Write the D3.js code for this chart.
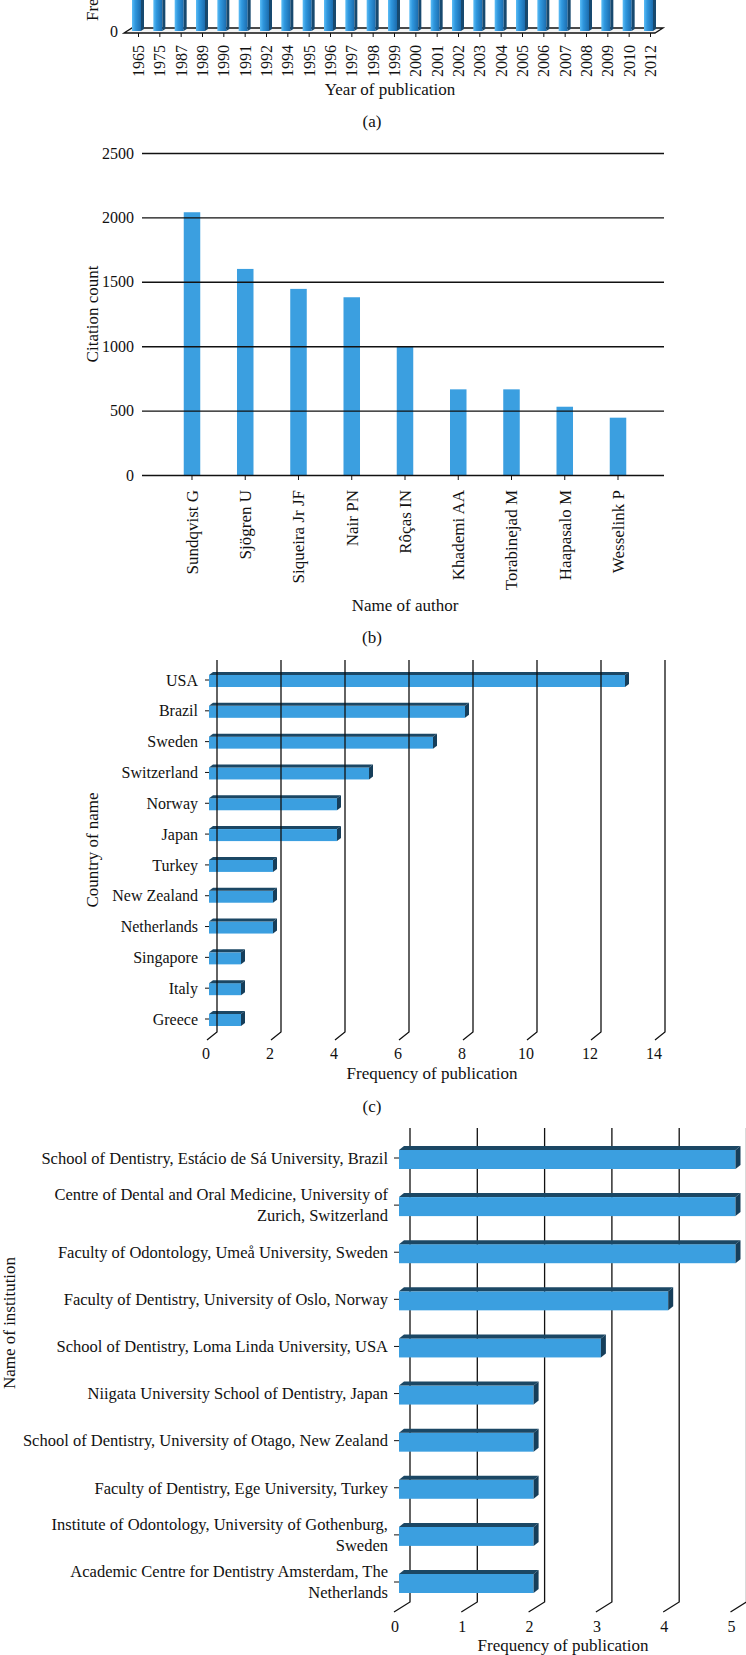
<!DOCTYPE html>
<html>
<head>
<meta charset="utf-8">
<script src="https://cdn.jsdelivr.net/npm/d3@7"></script>
<style>
  body { margin: 0; background: #fff; }
  text { font-family: "Liberation Serif", "DejaVu Serif", serif; fill: #111; }
</style>
</head>
<body>
<svg id="fig"></svg>
<script>
// ---- data ----
// (a) the top of this panel is cut off in the figure, so every bar runs off the top edge
const years = ['1965','1975','1987','1989','1990','1991','1992','1994','1995','1996','1997','1998','1999',
  '2000','2001','2002','2003','2004','2005','2006','2007','2008','2009','2010','2012'];
const yearCounts = [1,1,1,1,1,2,1,1,2,2,3,2,2,3,2,4,3,2,2,2,3,2,1,2,1];

// (b)
const authors = ['Sundqvist G','Sjögren U','Siqueira Jr JF','Nair PN','Rôças IN','Khademi AA','Torabinejad M','Haapasalo M','Wesselink P'];
const citations = [2040, 1600, 1445, 1380, 1000, 665, 665, 530, 445];
const citationTicks = [0, 500, 1000, 1500, 2000, 2500];

// (c)
const countries = ['USA','Brazil','Sweden','Switzerland','Norway','Japan','Turkey','New Zealand','Netherlands','Singapore','Italy','Greece'];
const countryFreq = [13, 8, 7, 5, 4, 4, 2, 2, 2, 1, 1, 1];
const countryTicks = [0, 2, 4, 6, 8, 10, 12, 14];

// (d)
const institutions = [
  'School of Dentistry, Estácio de Sá University, Brazil',
  'Centre of Dental and Oral Medicine, University of|Zurich, Switzerland',
  'Faculty of Odontology, Umeå University, Sweden',
  'Faculty of Dentistry, University of Oslo, Norway',
  'School of Dentistry, Loma Linda University, USA',
  'Niigata University School of Dentistry, Japan',
  'School of Dentistry, University of Otago, New Zealand',
  'Faculty of Dentistry, Ege University, Turkey',
  'Institute of Odontology, University of Gothenburg,|Sweden',
  'Academic Centre for Dentistry Amsterdam, The|Netherlands'
];
const instFreq = [5, 5, 5, 4, 3, 2, 2, 2, 2, 2];
const instTicks = [0, 1, 2, 3, 4, 5];

const W = 746, H = 1655;
const BLUE = '#3b9fe0', TOP = '#1b4764', SIDE = '#163e5a';
const FONT = '"Liberation Serif", serif';

const svg = d3.select('#fig').attr('width', W).attr('height', H);

const defs = svg.append('defs');
const grad = defs.append('linearGradient').attr('id', 'cyl').attr('x1', 0).attr('x2', 1).attr('y1', 0).attr('y2', 0);
grad.append('stop').attr('offset', 0).attr('stop-color', '#5cbdf6');
grad.append('stop').attr('offset', 0.35).attr('stop-color', '#2f97de');
grad.append('stop').attr('offset', 1).attr('stop-color', '#1b6cae');

function caption(txt, x, y, size) {
  svg.append('text').attr('x', x).attr('y', y).attr('text-anchor', 'middle')
    .style('font-size', (size || 17) + 'px').text(txt);
}

// ================= (a) year of publication =================
{
  const floorFront = 33, floorBack = 28;
  const xA = d3.scalePoint().domain(years).range([138, 650]);
  const yA = d3.scaleLinear().domain([0, 2]).range([31, -50]);

  // floor of the 3d box
  svg.append('path')
    .attr('d', `M124,${floorFront}L132,${floorBack}H663L655,${floorFront}Z`)
    .attr('fill', '#f4f4f4').attr('stroke', '#111').attr('stroke-width', 1.3);

  const bars = svg.append('g');
  years.forEach((yr, i) => {
    const cx = xA(yr) - 1, top = yA(yearCounts[i]);
    bars.append('rect').attr('x', cx - 5).attr('y', top).attr('width', 9).attr('height', 31 - top)
      .attr('fill', 'url(#cyl)');
    bars.append('path')
      .attr('d', `M${cx + 4},${top}L${cx + 7},${top - 2}V${29}L${cx + 4},31Z`)
      .attr('fill', '#17496f');
  });

  const ax = svg.append('g').attr('transform', `translate(0,${floorFront})`)
    .call(d3.axisBottom(xA).tickSize(4).tickSizeOuter(0));
  ax.select('.domain').remove();
  ax.selectAll('line').attr('stroke', '#111');
  ax.selectAll('text')
    .attr('transform', 'rotate(-90)').attr('x', -12).attr('y', 0).attr('dy', '0.35em')
    .style('text-anchor', 'end').style('font-size', '16px').style('font-family', FONT).style('fill', '#111');

  svg.append('text').attr('x', 118).attr('y', 37).attr('text-anchor', 'end').style('font-size', '16px').text('0');
  svg.append('text').attr('transform', 'translate(98,21) rotate(-90)').attr('text-anchor', 'start')
    .style('font-size', '17px').text('Frequency of publication');

  caption('Year of publication', 390, 95);
  caption('(a)', 372, 127);
}

// ================= (b) citation count by author =================
{
  const left = 142, right = 664;
  const xB = d3.scaleBand().domain(authors).range([147, 663]).padding(0.69);
  const yB = d3.scaleLinear().domain([0, 2500]).range([475, 153]);

  svg.append('g').selectAll('rect').data(authors).join('rect')
    .attr('x', d => xB(d)).attr('width', xB.bandwidth())
    .attr('y', (d, i) => yB(citations[i])).attr('height', (d, i) => yB(0) - yB(citations[i]))
    .attr('fill', BLUE);

  const gy = svg.append('g').attr('transform', `translate(${left},0)`)
    .call(d3.axisLeft(yB).tickValues(citationTicks).tickFormat(d3.format('d'))
      .tickSize(-(right - left)).tickPadding(8));
  gy.select('.domain').remove();
  gy.selectAll('line').attr('stroke', '#111').attr('stroke-width', 1.4);
  gy.selectAll('text').style('font-size', '16px').style('font-family', FONT).style('fill', '#111');

  const gx = svg.append('g').attr('transform', `translate(0,${yB(0)})`)
    .call(d3.axisBottom(xB).tickSize(5).tickSizeOuter(0));
  gx.select('.domain').remove();
  gx.selectAll('line').attr('stroke', '#111');
  gx.selectAll('text')
    .attr('transform', 'rotate(-90)').attr('x', -15).attr('y', 0).attr('dy', '0.35em')
    .style('text-anchor', 'end').style('font-size', '17px').style('font-family', FONT).style('fill', '#111');

  svg.append('text').attr('transform', `translate(98,${(yB(0) + yB(2500)) / 2}) rotate(-90)`)
    .attr('text-anchor', 'middle').style('font-size', '17px').text('Citation count');
  caption('Name of author', 405, 611);
  caption('(b)', 372, 643);
}

// ================= 3d horizontal bar panels (c) and (d) =================
function panel3d(o) {
  const x = d3.scaleLinear().domain([0, d3.max(o.ticks)]).range(o.xRange);
  const y = d3.scalePoint().domain(o.cats).range(o.yRange);
  const g = svg.append('g');

  const grid = g.append('g');
  const bars = g.append('g');
  // gridlines on the back wall, with the diagonal floor edge; drawn over the bars when asked
  (o.gridOver ? g.append('g') : grid).selectAll('path').data(o.ticks).join('path')
    .attr('d', v => `M${x(v) + o.back},${o.gridTop}V${o.gridBottom}L${x(v) + o.front},${o.floorY}`)
    .attr('fill', 'none').attr('stroke', '#111').attr('stroke-width', 1.3);

  g.append('g').selectAll('text').data(o.ticks).join('text')
    .attr('x', v => x(v) + o.labelDx).attr('y', o.labelY).attr('text-anchor', 'middle')
    .style('font-size', o.fs + 'px').text(d => d);

  // bars: front face, top face, right side
  o.cats.forEach((c, i) => {
    const x0 = x(0), x1 = x(o.vals[i]);
    const yt = y(c) + o.barOff, h = o.barH, dx = o.dx, dy = o.dy;
    bars.append('rect').attr('x', x0).attr('y', yt).attr('width', x1 - x0).attr('height', h).attr('fill', BLUE);
    bars.append('path').attr('d', `M${x0},${yt}L${x0 + dx},${yt - dy}H${x1 + dx}L${x1},${yt}Z`).attr('fill', TOP);
    bars.append('path').attr('d', `M${x1},${yt}L${x1 + dx},${yt - dy}V${yt + h - dy}L${x1},${yt + h}Z`).attr('fill', SIDE);
  });

  // category axis
  const gc = g.append('g');
  o.cats.forEach(c => {
    const cy = y(c);
    gc.append('line').attr('x1', o.tickX - o.tickLen).attr('x2', o.tickX).attr('y1', cy).attr('y2', cy)
      .attr('stroke', '#111');
    const lines = c.split('|');
    const t = gc.append('text').attr('text-anchor', 'end').style('font-size', o.catFs + 'px');
    lines.forEach((ln, k) => {
      t.append('tspan').attr('x', o.labelX)
        .attr('y', cy + (k - (lines.length - 1) / 2) * o.lineH).attr('dy', '0.35em').text(ln);
    });
  });
  return { x, y };
}

// (c) country
panel3d({
  cats: countries, vals: countryFreq, ticks: countryTicks,
  xRange: [209, 209 + 14 * 32], yRange: [680, 1019],
  back: 8, front: -2, gridTop: 660, gridBottom: 1032, floorY: 1040, gridOver: true,
  labelDx: -3, labelY: 1059, fs: 16,
  barOff: -5, barH: 12, dx: 4, dy: 3,
  tickX: 209, tickLen: 4, labelX: 198, catFs: 16, lineH: 18
});
svg.append('text').attr('transform', 'translate(98,850) rotate(-90)')
  .attr('text-anchor', 'middle').style('font-size', '17px').text('Country of name');
caption('Frequency of publication', 432, 1079);
caption('(c)', 372, 1112);

// (d) institution
panel3d({
  cats: institutions, vals: instFreq, ticks: instTicks,
  xRange: [399, 399 + 5 * 67.3], yRange: [1158, 1582],
  back: 11, front: -5, gridTop: 1128, gridBottom: 1602, floorY: 1612, gridOver: false,
  labelDx: -4, labelY: 1632, fs: 16,
  barOff: -8, barH: 19, dx: 5, dy: 4,
  tickX: 399, tickLen: 5, labelX: 388, catFs: 16.5, lineH: 21
});
svg.append('text').attr('transform', 'translate(15,1323) rotate(-90)')
  .attr('text-anchor', 'middle').style('font-size', '17px').text('Name of institution');
caption('Frequency of publication', 563, 1651);
</script>
</body>
</html>
